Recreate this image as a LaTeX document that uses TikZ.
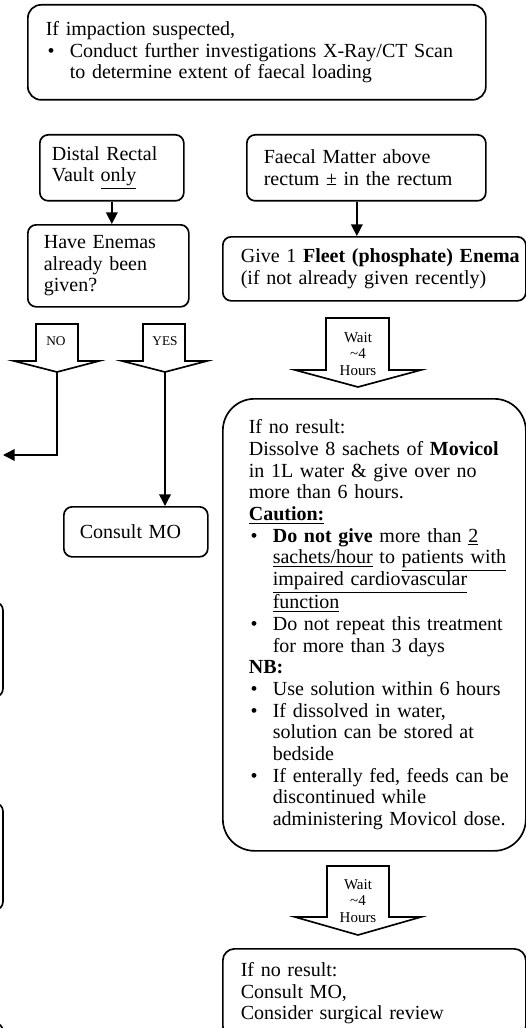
\documentclass[tikz,border=0pt]{standalone}
\usepackage{fontspec}
\setmainfont{Liberation Serif}
\usetikzlibrary{arrows.meta}

\newcommand{\bitem}{\makebox[14.4pt][l]{\hspace{1pt}\textbullet}}
\newcommand{\bcont}{\hspace*{14.4pt}}

\tikzset{
  box/.style={draw, line width=1pt, rounded corners=5pt, anchor=north west,
    align=left, inner xsep=1.8pt, inner ysep=0pt,
    font=\fontsize{12}{13}\selectfont},
  bigarrow/.style={draw, line width=1pt, line join=miter},
  arrowtext/.style={align=center, inner sep=0pt, font=\fontsize{9}{10}\selectfont},
  flagtext/.style={inner sep=0pt, font=\fontsize{8}{9}\selectfont},
  conn/.style={line width=0.9pt, -{Triangle[length=7pt,width=7pt]}},
}

\begin{document}
\begin{tikzpicture}[x=0.6pt, y=-0.6pt]
  \useasboundingbox (0,0) rectangle (526,1028);
  \clip (0,0) rectangle (526,1028);

  % boxes
  \node (impact) [box, rounded corners=8pt, text width=271.2pt, minimum height=57pt] at (27,4)
    {\leftskip=9pt If impaction suspected,\\
     \bitem Conduct further investigations X-Ray/CT Scan\\
     \bcont to determine extent of faecal loading\par};
  \node (distal) [box, text width=82.8pt, minimum height=39.6pt] at (39,134)
    {\leftskip=5.4pt Distal Rectal\\ Vault \underline{only}\par};
  \node (enemaq) [box, text width=93pt, minimum height=49.2pt] at (27,224)
    {\leftskip=7.8pt Have Enemas\\ already been\\ given?\par};
  \node (faecal) [box, text width=139.8pt, minimum height=39.6pt] at (246,134)
    {\leftskip=8.4pt Faecal Matter above\\ rectum ± in the rectum\par};
  \node (fleet) [box, text width=178.2pt, minimum height=38.4pt] at (222,236)
    {\leftskip=9pt Give 1 \textbf{Fleet (phosphate) Enema}\\ (if not already given recently)\par};
  \node (consult) [box, text width=82.8pt, minimum height=30pt] at (63,506)
    {\leftskip=7.8pt Consult MO\par};
  \node (movicol) [box, rounded corners=19pt, text width=178.2pt, minimum height=271.2pt] at (222,398)
    {\leftskip=13.8pt If no result:\\
     Dissolve 8 sachets of \textbf{Movicol}\\
     in 1L water \& give over no\\
     more than 6 hours.\\
     \textbf{\underline{Caution:}}\\
     \bitem\textbf{Do not give} more than \underline{2}\\
     \bcont\underline{sachets/hour} to \underline{patients with}\\
     \bcont\underline{impaired cardiovascular}\\
     \bcont\underline{function}\\
     \bitem Do not repeat this treatment\\
     \bcont for more than 3 days\\
     \textbf{NB:}\\
     \bitem Use solution within 6 hours\\
     \bitem If dissolved in water,\\
     \bcont solution can be stored at\\
     \bcont bedside\\
     \bitem If enterally fed, feeds can be\\
     \bcont discontinued while\\
     \bcont administering Movicol dose.\par};
  \node (surgical) [box, rounded corners=7pt, text width=178.2pt, minimum height=53.4pt] at (222,948)
    {\leftskip=9pt If no result:\\ Consult MO,\\ Consider surgical review\par};

  % boxes cut off at the left edge
  \foreach \ytop/\ybot in {602/697, 803/910, 1023/1090}
    \draw[line width=1pt, rounded corners=5pt] (-60,\ytop) rectangle (3,\ybot);

  % block arrows
  \draw[bigarrow] (36,324) -- (78,324) -- (78,361) -- (99,361) -- (57,372) coordinate (notip)
    -- (14,361) -- (36,361) -- cycle;
  \node (no) [flagtext] at (56,341) {NO};
  \draw[bigarrow] (143,324) -- (185,324) -- (185,361) -- (207,361) -- (165,372) coordinate (yestip)
    -- (122,361) -- (143,361) -- cycle;
  \node (yes) [flagtext] at (165,341) {YES};
  \draw[bigarrow] (326,318) -- (389,318) -- (389,370) -- (421,370) -- (358,387)
    -- (295,370) -- (326,370) -- cycle;
  \node (wait1) [arrowtext] at (358,354) {Wait\\ \textasciitilde4\\ Hours};
  \draw[bigarrow] (327,866) -- (389,866) -- (389,917) -- (421,917) -- (358,935)
    -- (295,917) -- (327,917) -- cycle;
  \node (wait2) [arrowtext] at (358,901) {Wait\\ \textasciitilde4\\ Hours};

  % connectors
  \coordinate (noend) at (3,455);
  \draw[conn] (distal.south) -- (distal.south |- enemaq.north);
  \draw[conn] ([xshift=-5.7pt]faecal.south) -- ([xshift=-5.7pt]faecal.south |- fleet.north);
  \draw[conn] (notip) |- (noend);
  \draw[conn] (yestip) -- (yestip |- consult.north);
\end{tikzpicture}
\end{document}
